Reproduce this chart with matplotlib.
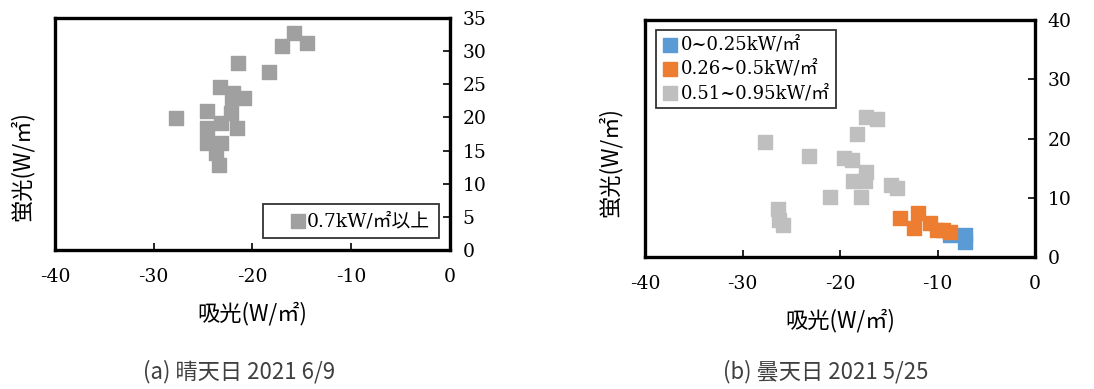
import matplotlib
matplotlib.use('Agg')
import matplotlib.pyplot as plt

# (a) clear day 2021 6/9
clear_x = [-15.8, -14.5, -17.0, -21.5, -18.3, -23.3, -22.0, -20.9, -22.1, -27.7,
           -24.6, -22.2, -23.2, -24.6, -21.6, -24.6, -23.2, -23.7, -23.4]
clear_y = [32.7, 31.2, 30.7, 28.2, 26.9, 24.6, 23.7, 22.9, 22.9, 19.9,
           20.9, 20.6, 19.1, 18.4, 18.4, 16.1, 16.1, 14.6, 12.8]

# (b) cloudy day 2021 5/25
low_x = [-8.7, -7.2, -7.2]
low_y = [3.8, 3.8, 2.6]
mid_x = [-13.8, -12.0, -12.4, -10.8, -10.1, -9.4, -8.7]
mid_y = [6.6, 7.4, 4.9, 5.8, 4.6, 4.6, 4.3]
high_x = [-27.7, -23.2, -19.6, -18.8, -17.3, -16.2, -18.3, -17.3, -17.4, -18.7,
          -17.8, -21.0, -14.8, -14.2, -26.4, -26.3, -25.9]
high_y = [19.4, 17.1, 16.7, 16.3, 23.6, 23.3, 20.7, 14.4, 12.8, 12.8,
          10.2, 10.2, 12.2, 11.6, 8.1, 6.3, 5.4]

plt.rcParams['font.family'] = ['DejaVu Serif', 'Noto Sans CJK JP']
plt.rcParams['axes.unicode_minus'] = False
cjk = ['Noto Sans CJK JP', 'DejaVu Sans']

fig = plt.figure(figsize=(10.94, 3.89), dpi=100)
ax1 = fig.add_axes([0.0503, 0.357, 0.361, 0.597])
ax2 = fig.add_axes([0.5896, 0.339, 0.3565, 0.6097])


def style(ax, ymax, ystep):
    ax.set_xlim(-40, 0)
    ax.set_ylim(0, ymax)
    ax.set_xticks(range(-40, 1, 10))
    ax.set_yticks(range(0, ymax + 1, ystep))
    ax.yaxis.tick_right()
    ax.tick_params(direction='in', length=5, width=1.2, labelsize=13.5, pad=9)
    ax.tick_params(axis='x', pad=13)
    for sp in ax.spines.values():
        sp.set_linewidth(2.4)
    ax.set_xlabel('吸光(W/㎡)', family=cjk, fontsize=16, labelpad=11)
    ax.set_ylabel('蛍光(W/㎡)', family=cjk, fontsize=16)
    ax.yaxis.set_label_position('left')


ax1.scatter(clear_x, clear_y, marker='s', s=115, color='#a0a0a0', label='0.7kW/㎡以上', zorder=3)
style(ax1, 35, 5)
ax1.yaxis.set_label_coords(-0.055, 0.36)
leg = ax1.legend(loc='lower right', prop={'size': 13.5}, frameon=True,
                 fancybox=False, handletextpad=-0.9, handlelength=2.8, borderpad=0.45,
                 bbox_to_anchor=(0.995, 0.01))
leg.get_frame().set_edgecolor('black')
leg.get_frame().set_linewidth(1.3)

ax2.scatter(low_x, low_y, marker='s', s=115, color='#5b9bd5', label='0~0.25kW/㎡', zorder=3)
ax2.scatter(mid_x, mid_y, marker='s', s=115, color='#ed7d31', label='0.26~0.5kW/㎡', zorder=3)
ax2.scatter(high_x, high_y, marker='s', s=115, color='#bfbfbf', label='0.51~0.95kW/㎡', zorder=3)
style(ax2, 40, 10)
ax2.yaxis.set_label_coords(-0.06, 0.4)
leg = ax2.legend(loc='upper left', prop={'size': 13}, frameon=True,
                 fancybox=False, handletextpad=0.1, handlelength=1.0, borderpad=0.3,
                 labelspacing=0.35, bbox_to_anchor=(0.005, 0.995))
leg.get_frame().set_edgecolor('black')
leg.get_frame().set_linewidth(1.3)

fig.text(143 / 1094, 1 - 372 / 389, '(a) 晴天日 2021 6/9', family=cjk, fontsize=16,
         color='#404040', ha='left', va='center')
fig.text(723 / 1094, 1 - 372 / 389, '(b) 曇天日 2021 5/25', family=cjk, fontsize=16,
         color='#404040', ha='left', va='center')

fig.savefig('out.png', dpi=100)
